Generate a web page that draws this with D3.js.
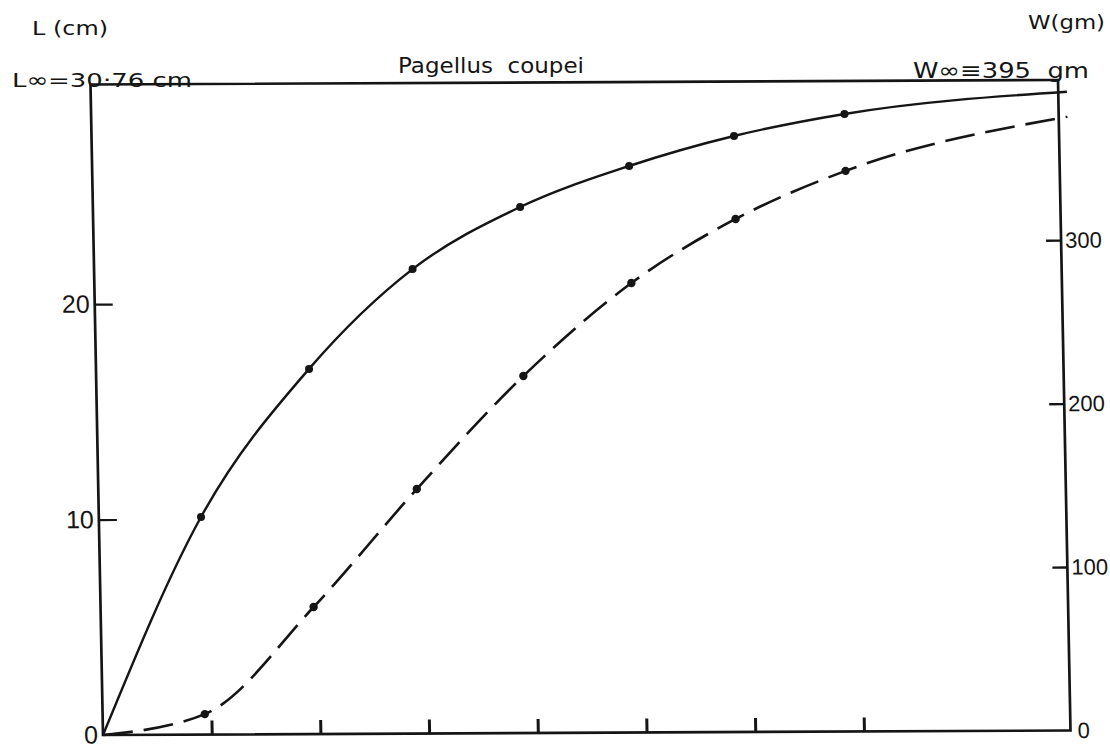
<!DOCTYPE html>
<html>
<head>
<meta charset="utf-8">
<script src="https://cdn.jsdelivr.net/npm/d3@7"></script>
<style>
  html, body { margin: 0; padding: 0; background: #fff; }
  svg { display: block; }
  text { fill: #151515; }
</style>
</head>
<body>
<svg id="chart" width="1110" height="749"></svg>
<script>
// Age (years) of each observation
const ages = [0.94, 1.96, 2.93, 3.93, 4.94, 5.91, 6.93];
// Observed total length (cm) at each age
const lengthCm = [10.1, 16.95, 21.56, 24.42, 26.3, 27.67, 28.67];
// Observed weight (gm) at each age
const weightGm = [12.5, 77.7, 149.6, 218.4, 275, 313.9, 343];
// Fitted curves run from the origin out past the right-hand axis
const curveStartAge = 0, curveEndAge = 8.98;
const lengthCurveEnd = 29.65;
const weightCurveEnd = 375.5;

const xTicks = [1, 2, 3, 4, 5, 6, 7];
const lTicks = [0, 10, 20];
const wTicks = [0, 100, 200, 300];

const title = "Pagellus  coupei";
const lAxisTitle = "L (cm)";
const wAxisTitle = "W(gm)";
const lInf = "L\u221E=30\u00B776 cm";
const wInf = "W\u221E\u2261395  gm";

const W = 967.5, H = 650.5;
const svg = d3.select("#chart");
const ink = "#151515";
const letterFont = "DejaVu Sans, Verdana, sans-serif";
const digitFont = "Liberation Sans, Arial, sans-serif";

// Hand-drawn frame is a slightly sheared box
const plot = svg.append("g")
  .attr("transform", "matrix(1,-0.00465,0.01922,1,90.5,84.5)");

const x = d3.scaleLinear().domain([0, 8.9]).range([0, W]);
const yL = d3.scaleLinear().domain([0, 30.2]).range([H, 0]);
const yW = d3.scaleLinear().domain([0, 398]).range([H, 0]);

// frame
plot.append("rect")
  .attr("x", 0).attr("y", 0).attr("width", W).attr("height", H)
  .attr("fill", "none").attr("stroke", ink).attr("stroke-width", 2.7);

// x axis: inward ticks, no labels
const gx = plot.append("g").attr("transform", `translate(0,${H})`)
  .call(d3.axisBottom(x).tickValues(xTicks).tickSize(-14).tickFormat(""));
gx.select(".domain").remove();
gx.selectAll(".tick line").attr("stroke", ink).attr("stroke-width", 3);

// left axis (length)
const gl = plot.append("g")
  .call(d3.axisLeft(yL).tickValues(lTicks).tickSize(-18).tickPadding(5).tickFormat(d3.format("d")));
gl.select(".domain").remove();
gl.selectAll(".tick line").attr("stroke", ink).attr("stroke-width", 2.2)
  .filter(d => d === 0).remove();
gl.selectAll(".tick text").attr("font-size", 25).attr("fill", ink)
  .attr("font-family", digitFont);

// right axis (weight)
const gr = plot.append("g").attr("transform", `translate(${W},0)`)
  .call(d3.axisRight(yW).tickValues(wTicks).tickSize(-15).tickPadding(4).tickFormat(d3.format("d")));
gr.select(".domain").remove();
gr.selectAll(".tick line").attr("stroke", ink).attr("stroke-width", 2.4)
  .filter(d => d === 0).remove();
gr.selectAll(".tick text").attr("font-size", 22).attr("fill", ink)
  .attr("font-family", digitFont)
  .attr("dx", d => d === 0 ? 3 : 0);

// fitted length curve (solid)
const lengthCurve = [[curveStartAge, 0]]
  .concat(ages.map((a, i) => [a, lengthCm[i]]))
  .concat([[curveEndAge, lengthCurveEnd]]);
plot.append("path")
  .datum(lengthCurve)
  .attr("fill", "none").attr("stroke", ink).attr("stroke-width", 2.4)
  .attr("d", d3.line().x(d => x(d[0])).y(d => yL(d[1])).curve(d3.curveMonotoneX));

// fitted weight curve (dashed)
const weightCurve = [[curveStartAge, 0]]
  .concat(ages.map((a, i) => [a, weightGm[i]]))
  .concat([[curveEndAge, weightCurveEnd]]);
plot.append("path")
  .datum(weightCurve)
  .attr("fill", "none").attr("stroke", ink).attr("stroke-width", 2.6)
  .attr("stroke-dasharray", "30,11")
  .attr("d", d3.line().x(d => x(d[0])).y(d => yW(d[1])).curve(d3.curveMonotoneX));

// observed points
plot.append("g").selectAll("circle").data(ages).join("circle")
  .attr("cx", d => x(d)).attr("cy", (d, i) => yL(lengthCm[i]))
  .attr("r", 4).attr("fill", ink);
plot.append("g").selectAll("circle").data(ages).join("circle")
  .attr("cx", d => x(d)).attr("cy", (d, i) => yW(weightGm[i]))
  .attr("r", 4.2).attr("fill", ink);

// titles and asymptote labels: wide stencil-style lettering
function label(txt, px, py, size, len) {
  svg.append("text").attr("x", px).attr("y", py)
    .attr("font-family", letterFont).attr("font-size", size)
    .attr("textLength", len).attr("lengthAdjust", "spacingAndGlyphs")
    .style("white-space", "pre")
    .text(txt);
}
label(lAxisTitle, 32, 35, 19, 76);
label(wAxisTitle, 1028, 29, 20, 77);
label(lInf, 12, 87, 20, 180);
label(wInf, 913, 78, 22, 176);
label(title, 398, 73, 21, 186);
</script>
</body>
</html>
